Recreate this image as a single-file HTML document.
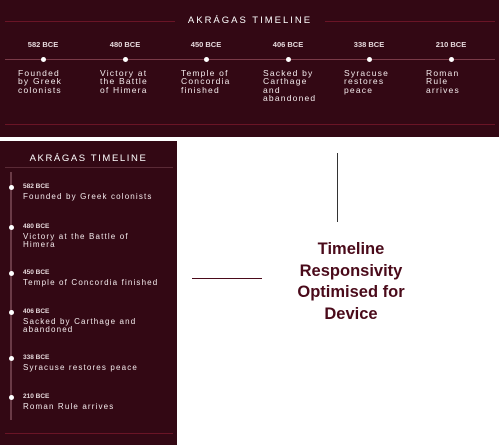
<!DOCTYPE html>
<html><head><meta charset="utf-8"><style>
body{margin:0;width:500px;height:445px;background:#fff;position:relative;overflow:hidden;font-family:"Liberation Sans",sans-serif}
.p{position:absolute;background:#330814;color:#fff}
.a{position:absolute}
.ln{position:absolute;background:#6a1426}
.t{position:absolute;font-size:8.5px;letter-spacing:1.2px;line-height:8.3px;color:#f3eaec}
.d{position:absolute;font-size:7.5px;color:#e5d8db;font-weight:bold}
.dot{position:absolute;width:5px;height:5px;border-radius:50%;background:#fff}
</style></head><body>
<div class="p" style="left:0;top:0;width:499px;height:137px">
 <div class="ln" style="left:5px;top:21px;width:170px;height:1px"></div>
 <div class="ln" style="left:325px;top:21px;width:170px;height:1px"></div>
 <div class="a" style="left:175px;width:150px;top:15px;text-align:center;font-size:9.5px;letter-spacing:2px">AKRÁGAS TIMELINE</div>
 <div class="a" style="left:5px;top:59px;width:490px;height:1px;background:#7a3a48"></div>
 <div class="ln" style="left:5px;top:124px;width:490px;height:1px"></div>
 <div id="hz"></div>
</div>
<div class="p" style="left:0;top:141px;width:177px;height:304px">
 <div class="a" style="left:0;width:177px;top:12px;text-align:center;font-size:9.5px;letter-spacing:1.6px">AKRÁGAS TIMELINE</div>
 <div class="a" style="left:5px;top:26px;width:168px;height:1px;background:#5a2a36"></div>
 <div class="a" style="left:10px;top:31px;width:2px;height:248px;background:#6a3a46"></div>
 <div class="ln" style="left:5px;top:292px;width:168px;height:1px"></div>
 <div id="vt"></div>
</div>
<div class="a" style="left:337px;top:153px;width:1px;height:69px;background:#333"></div>
<div class="a" style="left:192px;top:278px;width:70px;height:1px;background:#4a0a1a"></div>
<div class="a" style="left:271px;width:160px;top:239px;text-align:center;font-weight:bold;font-size:16.5px;line-height:21.5px;color:#4a0a1a">Timeline Responsivity Optimised for Device</div>
<script>
const years=["582 BCE","480 BCE","450 BCE","406 BCE","338 BCE","210 BCE"];
const hzDesc=[["Founded","by Greek","colonists"],["Victory at","the Battle","of Himera"],["Temple of","Concordia","finished"],["Sacked by","Carthage","and","abandoned"],["Syracuse","restores","peace"],["Roman","Rule","arrives"]];
const vtDesc=[["Founded by Greek colonists"],["Victory at the Battle of","Himera"],["Temple of Concordia finished"],["Sacked by Carthage and","abandoned"],["Syracuse restores peace"],["Roman Rule arrives"]];
const hz=document.getElementById('hz'),vt=document.getElementById('vt');
const hx=[43,125,206,288,369,451],vy=[46,86,132,171,217,256];
years.forEach((y,i)=>{
 let d=document.createElement('div');d.className='d';d.style.left=(hx[i]-20)+'px';d.style.width='40px';d.style.textAlign='center';d.style.top='40px';d.textContent=y;
 
 hz.appendChild(d);
 let o=document.createElement('div');o.className='dot';o.style.left=(hx[i]-2.5)+'px';o.style.top='57px';
 
 hz.appendChild(o);
 let t=document.createElement('div');t.className='t';t.style.left=(hx[i]-25)+'px';t.style.top='69px';t.innerHTML=hzDesc[i].join('<br>');
 
 hz.appendChild(t);
 let d2=document.createElement('div');d2.className='d';d2.style.left='23px';d2.style.top=(vy[i]-4)+'px';d2.style.fontSize='6.5px';d2.textContent=y;
 
 vt.appendChild(d2);
 let o2=document.createElement('div');o2.className='dot';o2.style.left='8.5px';o2.style.top=(vy[i]-2.5)+'px';
 
 vt.appendChild(o2);
 let t2=document.createElement('div');t2.className='t';t2.style.left='23px';t2.style.top=(vy[i]+6)+'px';t2.style.fontSize='8px';t2.style.letterSpacing='1.15px';t2.style.lineHeight='7.8px';t2.innerHTML=vtDesc[i].join('<br>');
 
 vt.appendChild(t2);
});
</script>
</body></html>
